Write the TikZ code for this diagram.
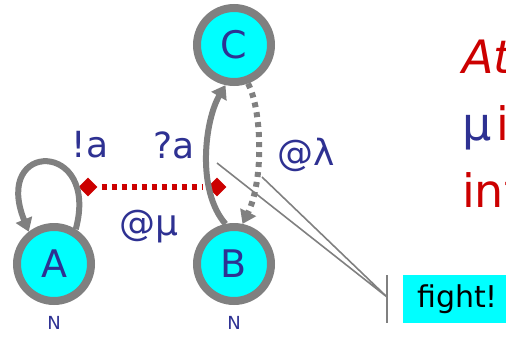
\documentclass[tikz,border=0pt]{standalone}
\usepackage{fontspec}
\setmainfont{DejaVu Sans}
\usetikzlibrary{shapes.geometric,arrows.meta}
\definecolor{slblue}{RGB}{46,49,146}
\definecolor{slred}{RGB}{204,0,0}
\definecolor{slgray}{RGB}{128,128,128}
\definecolor{slcyan}{RGB}{0,255,255}
\begin{document}
\begin{tikzpicture}
    [%%%%%%%%%%%%%%%%%%%%%%%%%%%%%%
        x=1pt,y=-1pt,
        state/.style={circle,draw=slgray,line width=8pt,fill=slcyan,minimum size=74pt,inner sep=0pt,text=slblue,font=\fontsize{38}{40}\selectfont},
        small/.style={text=slblue,font=\fontsize{18}{20}\selectfont},
        lbl/.style={text=slblue,font=\fontsize{36}{40}\selectfont},
        side/.style={anchor=base west,inner sep=0pt,font=\fontsize{46}{50}\selectfont},
        port/.style={diamond,fill=slred,minimum size=19pt,inner sep=0pt},
        conn/.style={draw=slgray,line width=6pt,-{Triangle[length=13pt,width=17pt]}},
        dots/.style={dash pattern=on 5pt off 5pt},
        pointer/.style={draw=slgray,line width=1.6pt}
    ]%%%%%%%%%%%%%%%%%%%%%%%%%%%%%%
\useasboundingbox (0,0) rectangle (506,338);

\node[state] (C) at (234,45) {C};
\node[state] (A) at (54,264) {A};
\node[state] (B) at (234,264) {B};
\node[small] (nA) at (54,323) {N};
\node[small] (nB) at (234,323) {N};

\node[port] (pA) at (88,187) {};
\node[port] (pB) at (217,187) {};
\draw[slred,line width=6pt,dots,shorten <=4pt,shorten >=4pt] (pA) -- (pB);

% loop on A
\draw[conn] (A.58) .. controls (100,140) and (-8,140) .. (A.128);
% B to C, dotted C to B
\draw[conn] (B.102) .. controls (196,190) and (205,120) .. (C.258);
\draw[conn,dots] (C.290) .. controls (262,110) and (264,180) .. (B.78);

\node[lbl] (l1) at (90,145) {!a};
\node[lbl] (l2) at (174,145) {?a};
\node[lbl] (l3) at (149,227) {@μ};
\node[lbl] (l4) at (306,155) {@λ};

% call-out
\node[fill=slcyan,anchor=west,minimum height=48pt,text width=95pt,inner xsep=14pt,font=\fontsize{30}{32}\selectfont] (fight) at (403,299) {fight!};
\coordinate (tip1) at (217,163);
\coordinate (tip2) at (262,177);
\coordinate (foot) at (387,297);
\draw[pointer] (tip1) -- (foot) -- (tip2);
\draw[draw=slgray,line width=2.5pt] (387,275) -- (387,323);

\node[side,text=slred] (t1) at (462,73) {\itshape At};
\node[side,text=slblue] (t2) at (462,140) {μ};
\node[side,text=slred] (t2i) at (496,140) {i};
\node[side,text=slred] (t3) at (462,207) {int};

\end{tikzpicture}
\end{document}
